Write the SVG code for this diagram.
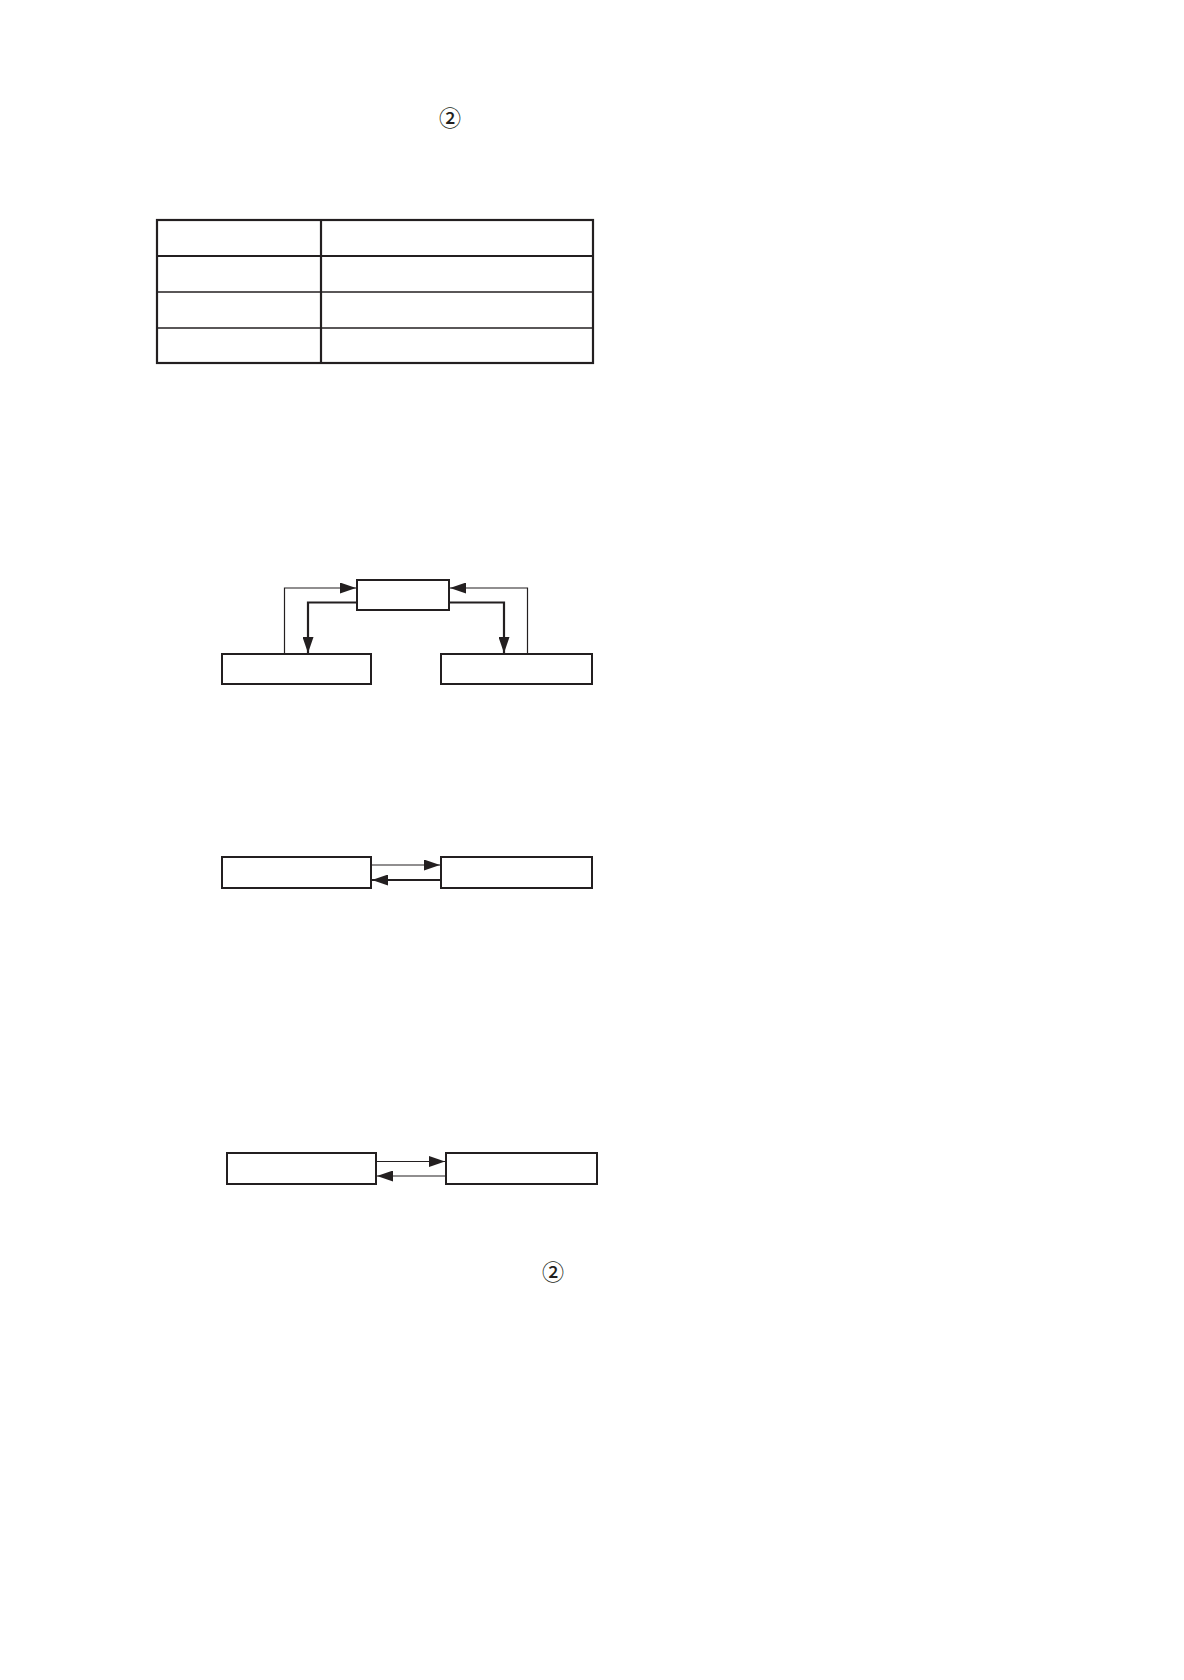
<svg xmlns="http://www.w3.org/2000/svg" width="1184" height="1680" viewBox="0 0 1184 1680">
<style>
.box{fill:#fff;stroke:#231f20;stroke-width:2}
.thin{fill:none;stroke:#231f20;stroke-width:1.2}
.thick{fill:none;stroke:#231f20;stroke-width:2.2}
.lbl{font-family:"Noto Sans CJK JP","DejaVu Sans",sans-serif;font-size:22px;font-weight:500;fill:#231f20;text-anchor:middle;dominant-baseline:central}
</style>
<defs>
<marker id="ah" viewBox="0 0 16 11" refX="16" refY="5.5" markerWidth="16" markerHeight="11" markerUnits="userSpaceOnUse" orient="auto">
<path d="M0,0 L16,5.5 L0,11 Z" fill="#231f20"/>
</marker>
</defs>
<rect width="1184" height="1680" fill="#fff"/>
<text class="lbl" x="450" y="116">②</text>
<g id="table">
<rect x="157" y="220" width="436" height="143" fill="#fff" stroke="#231f20" stroke-width="2.2"/>
<line x1="321" y1="220" x2="321" y2="363" stroke="#231f20" stroke-width="2.2"/>
<line x1="157" y1="256" x2="593" y2="256" stroke="#231f20" stroke-width="2"/>
<line x1="157" y1="292" x2="593" y2="292" stroke="#231f20" stroke-width="1.4"/>
<line x1="157" y1="328" x2="593" y2="328" stroke="#231f20" stroke-width="1.4"/>
</g>
<g id="n-center"><rect class="box" x="357" y="580" width="92" height="30"/></g>
<g id="n-left1"><rect class="box" x="222" y="654" width="149" height="30"/></g>
<g id="n-right1"><rect class="box" x="441" y="654" width="151" height="30"/></g>
<g id="n-left2"><rect class="box" x="222" y="857" width="149" height="31"/></g>
<g id="n-right2"><rect class="box" x="441" y="857" width="151" height="31"/></g>
<g id="n-left3"><rect class="box" x="227" y="1153" width="149" height="31"/></g>
<g id="n-right3"><rect class="box" x="446" y="1153" width="151" height="31"/></g>
<g id="connectors">
<polyline class="thin" points="284.5,654 284.5,588 356,588" marker-end="url(#ah)"/>
<polyline class="thick" points="357,602.5 308,602.5 308,653" marker-end="url(#ah)"/>
<polyline class="thick" points="449,602.5 504,602.5 504,653" marker-end="url(#ah)"/>
<polyline class="thin" points="527.5,654 527.5,588 450,588" marker-end="url(#ah)"/>
<line class="thin" x1="371" y1="865" x2="440" y2="865" marker-end="url(#ah)"/>
<line class="thick" x1="441" y1="880" x2="372" y2="880" marker-end="url(#ah)"/>
<line class="thin" x1="376" y1="1161.5" x2="445" y2="1161.5" marker-end="url(#ah)"/>
<line class="thin" x1="446" y1="1176" x2="377" y2="1176" marker-end="url(#ah)"/>
</g>
<text class="lbl" x="553" y="1270">②</text>
</svg>
